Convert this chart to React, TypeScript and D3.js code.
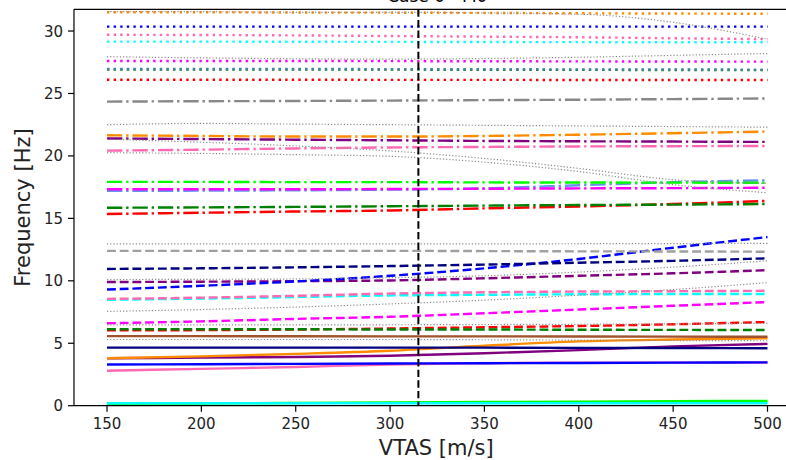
import React from "react";
import * as d3 from "d3";

const VTAS = [150, 200, 250, 300, 350, 400, 450, 500];
const X_TICKS = [150, 200, 250, 300, 350, 400, 450, 500];
const Y_TICKS = [0, 5, 10, 15, 20, 25, 30];
const FLUTTER_VTAS = 315;

// solid (first family of modes)
const solidLime = [0.15, 0.18, 0.22, 0.27, 0.3, 0.33, 0.36, 0.38];
const solidCyan = [0.2, 0.2, 0.2, 0.2, 0.2, 0.2, 0.2, 0.2];
const solidPink = [2.8, 2.95, 3.1, 3.3, 3.4, 3.45, 3.45, 3.45];
const solidBlue = [3.3, 3.32, 3.35, 3.38, 3.4, 3.42, 3.45, 3.47];
const solidPurple = [3.8, 3.85, 3.9, 4.0, 4.2, 4.45, 4.75, 4.95];
const solidOrange = [3.8, 3.95, 4.15, 4.4, 4.8, 5.15, 5.3, 5.4];
const solidNavy = [4.65, 4.65, 4.65, 4.65, 4.65, 4.63, 4.62, 4.6];
const solidSienna = [5.57, 5.57, 5.56, 5.55, 5.55, 5.54, 5.53, 5.52];

// dashed
const dashRed = [6.03, 6.05, 6.1, 6.18, 6.28, 6.38, 6.52, 6.7];
const dashGreen = [6.12, 6.12, 6.12, 6.1, 6.1, 6.08, 6.07, 6.06];
const dashMagenta = [6.6, 6.75, 6.95, 7.12, 7.4, 7.7, 8.0, 8.3];
const dashCyan = [8.48, 8.58, 8.7, 8.83, 8.88, 8.92, 8.94, 8.95];
const dashPink = [8.55, 8.65, 8.8, 8.98, 9.08, 9.14, 9.17, 9.2];
const dashPurple = [9.9, 9.93, 9.97, 10.03, 10.2, 10.4, 10.6, 10.85];
const dashBlue = [9.3, 9.6, 9.95, 10.4, 11.0, 11.75, 12.65, 13.5];
const dashNavy = [10.95, 11.0, 11.08, 11.18, 11.3, 11.45, 11.6, 11.8];
const dashGray = [12.4, 12.4, 12.4, 12.4, 12.38, 12.36, 12.35, 12.33];

// dash-dot
const ddRed = [15.35, 15.45, 15.55, 15.63, 15.8, 15.95, 16.15, 16.4];
const ddGreen = [15.85, 15.88, 15.92, 15.97, 16.02, 16.07, 16.1, 16.15];
const ddSteel = [17.2, 17.22, 17.25, 17.3, 17.4, 17.65, 17.9, 18.05];
const ddMagenta = [17.33, 17.33, 17.33, 17.35, 17.37, 17.4, 17.42, 17.45];
const ddLime = [17.92, 17.92, 17.9, 17.9, 17.88, 17.87, 17.86, 17.85];
const ddPink = [20.42, 20.5, 20.6, 20.68, 20.72, 20.76, 20.78, 20.8];
const ddPurple = [21.4, 21.35, 21.3, 21.25, 21.2, 21.17, 21.15, 21.12];
const ddOrange = [21.65, 21.6, 21.55, 21.55, 21.6, 21.7, 21.82, 21.95];
const ddGray = [24.35, 24.38, 24.4, 24.43, 24.47, 24.5, 24.55, 24.6];

// dotted
const dotRed = [26.1, 26.1, 26.1, 26.09, 26.09, 26.08, 26.08, 26.08];
const dotGreen = [26.92, 26.92, 26.92, 26.91, 26.9, 26.89, 26.88, 26.87];
const dotSteel = [26.96, 26.96, 26.96, 26.95, 26.94, 26.93, 26.92, 26.91];
const dotMagenta = [27.6, 27.6, 27.6, 27.59, 27.58, 27.57, 27.56, 27.55];
const dotCyan = [29.15, 29.15, 29.14, 29.13, 29.12, 29.11, 29.1, 29.1];
const dotPink = [29.7, 29.68, 29.65, 29.6, 29.55, 29.5, 29.42, 29.35];
const dotBlue = [30.35, 30.35, 30.35, 30.35, 30.35, 30.35, 30.35, 30.35];
const dotOrange = [31.5, 31.5, 31.48, 31.47, 31.45, 31.42, 31.4, 31.38];

// thin gray dotted (tracked branches)
const gray1 = [5.3, 5.3, 5.3, 5.3, 5.28, 5.25, 5.22, 5.2];
const gray2 = [6.47, 6.47, 6.47, 6.48, 6.5, 6.52, 6.55, 6.6];
const gray3 = [7.55, 7.7, 7.9, 8.15, 8.45, 8.85, 9.3, 9.85];
const gray4 = [10.1, 10.12, 10.15, 10.25, 10.4, 10.7, 11.1, 11.6];
const gray5 = [12.95, 12.95, 12.95, 12.95, 12.95, 12.97, 12.98, 13.0];
const gray6 = [20.26, 20.2, 20.1, 19.97, 19.5, 18.75, 17.7, 17.05];
const gray7 = [21.33, 21.1, 20.8, 20.4, 19.8, 19.0, 18.1, 17.8];
const gray8 = [22.5, 22.6, 22.55, 22.5, 22.45, 22.4, 22.35, 22.3];
const gray9 = [27.95, 27.85, 27.78, 27.75, 27.8, 27.9, 28.05, 28.2];
const gray10 = [31.55, 31.55, 31.5, 31.5, 31.45, 31.35, 30.7, 29.35];

const LW = 2.4;
const STYLES: Record<string, string | undefined> = {
  solid: undefined,
  dashed: `${3.7 * LW} ${1.6 * LW}`,
  dashdot: `${6.4 * LW} ${1.6 * LW} ${1 * LW} ${1.6 * LW}`,
  dotted: `${1 * LW} ${1.75 * LW}`,
};

type S = { v: number[]; c: string; s: string };

const SERIES: S[] = [
  { v: solidLime, c: "#00ff00", s: "solid" },
  { v: solidCyan, c: "#00ffff", s: "solid" },
  { v: solidPink, c: "#ff69b4", s: "solid" },
  { v: solidBlue, c: "#0000ff", s: "solid" },
  { v: solidPurple, c: "#800080", s: "solid" },
  { v: solidOrange, c: "#ff8c00", s: "solid" },
  { v: solidNavy, c: "#000080", s: "solid" },
  { v: solidSienna, c: "#a0522d", s: "solid" },
  { v: dashRed, c: "#ff0000", s: "dashed" },
  { v: dashGreen, c: "#008000", s: "dashed" },
  { v: dashMagenta, c: "#ff00ff", s: "dashed" },
  { v: dashCyan, c: "#00ffff", s: "dashed" },
  { v: dashPink, c: "#ff69b4", s: "dashed" },
  { v: dashPurple, c: "#800080", s: "dashed" },
  { v: dashBlue, c: "#0000ff", s: "dashed" },
  { v: dashNavy, c: "#000080", s: "dashed" },
  { v: dashGray, c: "#a0a0a0", s: "dashed" },
  { v: ddRed, c: "#ff0000", s: "dashdot" },
  { v: ddGreen, c: "#008000", s: "dashdot" },
  { v: ddSteel, c: "#6495ed", s: "dashdot" },
  { v: ddMagenta, c: "#ff00ff", s: "dashdot" },
  { v: ddLime, c: "#00ff00", s: "dashdot" },
  { v: ddPink, c: "#ff69b4", s: "dashdot" },
  { v: ddPurple, c: "#800080", s: "dashdot" },
  { v: ddOrange, c: "#ff8c00", s: "dashdot" },
  { v: ddGray, c: "#888888", s: "dashdot" },
  { v: dotRed, c: "#ff0000", s: "dotted" },
  { v: dotGreen, c: "#008000", s: "dotted" },
  { v: dotSteel, c: "#4682b4", s: "dotted" },
  { v: dotMagenta, c: "#ff00ff", s: "dotted" },
  { v: dotCyan, c: "#00ffff", s: "dotted" },
  { v: dotPink, c: "#ff69b4", s: "dotted" },
  { v: dotBlue, c: "#0000ff", s: "dotted" },
  { v: dotOrange, c: "#ff8c00", s: "dotted" },
];

const GRAYS = [gray1, gray2, gray3, gray4, gray5, gray6, gray7, gray8, gray9, gray10];

const W = 786;
const H = 460;
const FONT = "'DejaVu Sans', sans-serif";

export default function App() {
  const x = d3.scaleLinear().domain([150, 500]).range([107, 767.5]);
  const y = d3.scaleLinear().domain([0, 31.74]).range([405.7, 9.3]);
  const x0 = x(132.5);
  const x1 = x(517.5);
  const yTop = y(31.74);
  const yBot = y(0);

  const line = (vals: number[]) =>
    d3
      .line<number>()
      .x((_, i) => x(VTAS[i]))
      .y((d) => y(d))
      .curve(d3.curveMonotoneX)(vals) || "";

  return (
    <svg
      width={W}
      height={H}
      style={{ position: "absolute", left: 0, top: 0, background: "white" }}
      fontFamily={FONT}
    >
      <defs>
        <clipPath id="plotclip">
          <rect x={x0} y={yTop} width={x1 - x0} height={yBot - yTop} />
        </clipPath>
      </defs>
      <rect x={0} y={0} width={W} height={H} fill="white" />
      <text x={(x0 + x1) / 2} y={1.5} fontSize={17} textAnchor="middle" fill="black">
        Case 0 - M0
      </text>
      <g clipPath="url(#plotclip)">
        {SERIES.map((s, i) => (
          <path
            key={"s" + i}
            d={line(s.v)}
            fill="none"
            stroke={s.c}
            strokeWidth={LW}
            strokeDasharray={STYLES[s.s]}
          />
        ))}
        {GRAYS.map((g, i) => (
          <path
            key={"g" + i}
            d={line(g)}
            fill="none"
            stroke="#8c8c8c"
            strokeWidth={1.2}
            strokeDasharray="1.2 2"
          />
        ))}
        <line
          x1={x(FLUTTER_VTAS)}
          x2={x(FLUTTER_VTAS)}
          y1={yTop}
          y2={yBot}
          stroke="black"
          strokeWidth={2}
          strokeDasharray="7.4 3.2"
        />
      </g>
      {/* spines (the right one falls outside the picture) */}
      <line x1={x0} x2={x0} y1={yTop} y2={yBot} stroke="black" strokeWidth={1.2} />
      <line x1={x0} x2={x1} y1={yBot} y2={yBot} stroke="black" strokeWidth={1.2} />
      <line x1={x0} x2={x1} y1={yTop} y2={yTop} stroke="black" strokeWidth={1.2} />
      {X_TICKS.map((t) => (
        <g key={"xt" + t}>
          <line x1={x(t)} x2={x(t)} y1={yBot} y2={yBot + 6} stroke="black" strokeWidth={1.2} />
          <text x={x(t)} y={yBot + 23} fontSize={15} textAnchor="middle" fill="#222">
            {t}
          </text>
        </g>
      ))}
      {Y_TICKS.map((t) => (
        <g key={"yt" + t}>
          <line x1={x0 - 6} x2={x0} y1={y(t)} y2={y(t)} stroke="black" strokeWidth={1.2} />
          <text x={x0 - 11} y={y(t) + 5.5} fontSize={15} textAnchor="end" fill="#222">
            {t}
          </text>
        </g>
      ))}
      <text x={(x0 + x1) / 2 - 1} y={455} fontSize={21} textAnchor="middle" fill="#222">
        VTAS [m/s]
      </text>
      <text
        transform={`translate(29.5, ${(yTop + yBot) / 2}) rotate(-90)`}
        fontSize={21}
        textAnchor="middle"
        fill="#222"
      >
        Frequency [Hz]
      </text>
    </svg>
  );
}
